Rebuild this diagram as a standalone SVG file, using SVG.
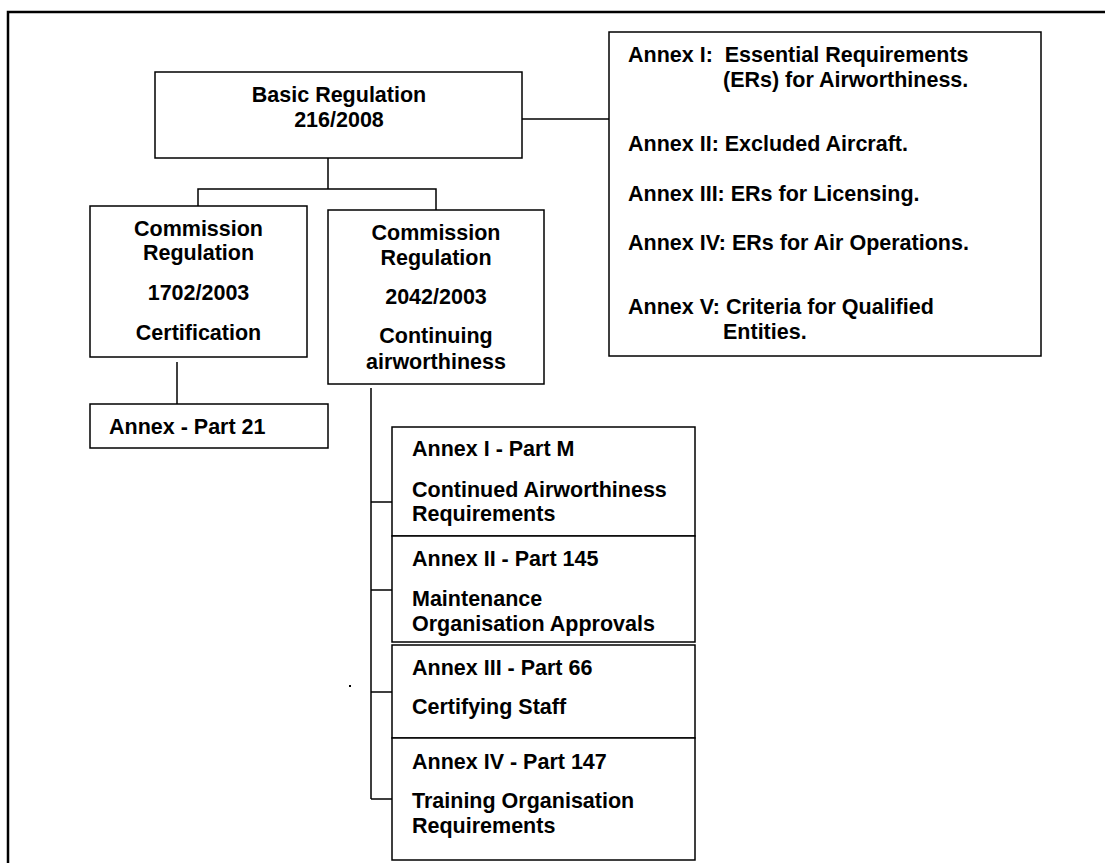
<svg xmlns="http://www.w3.org/2000/svg" width="1105" height="863" viewBox="0 0 1105 863">
<style>
.frame{fill:none;stroke:#000;stroke-width:2.5}
.box{fill:#fff;stroke:#000;stroke-width:1.5}
.ln{fill:none;stroke:#000;stroke-width:1.5}
text{font-family:"Liberation Sans",Arial,sans-serif;font-weight:bold;font-size:21.5px;fill:#000}
.c{text-anchor:middle}
</style>
<rect width="1105" height="863" fill="#fff"/>
<path class="frame" d="M8,863 V12 H1105"/>
<g id="connectors">
<path class="ln" d="M522,119 H609"/>
<path class="ln" d="M328,158 V189 M198,206 V189 H436 V210"/>
<path class="ln" d="M177,362 V404"/>
<path class="ln" d="M371,388 V799 M371,502 H392 M371,590 H392 M371,692 H392 M371,799 H392"/>
</g>
<g id="basic">
<rect class="box" x="155" y="72" width="367" height="86"/>
<text class="c" x="339" y="102">Basic Regulation</text>
<text class="c" x="339" y="127">216/2008</text>
</g>
<g id="annexes">
<rect class="box" x="609" y="32" width="432" height="324"/>
<text x="628" y="62" xml:space="preserve">Annex I:  Essential Requirements</text>
<text x="723" y="87">(ERs) for Airworthiness.</text>
<text x="628" y="151">Annex II: Excluded Aircraft.</text>
<text x="628" y="201">Annex III: ERs for Licensing.</text>
<text x="628" y="250">Annex IV: ERs for Air Operations.</text>
<text x="628" y="314">Annex V: Criteria for Qualified</text>
<text x="723" y="339">Entities.</text>
</g>
<g id="cr1702">
<rect class="box" x="90" y="206" width="217" height="151"/>
<text class="c" x="198.5" y="236">Commission</text>
<text class="c" x="198.5" y="260">Regulation</text>
<text class="c" x="198.5" y="300">1702/2003</text>
<text class="c" x="198.5" y="340">Certification</text>
</g>
<g id="cr2042">
<rect class="box" x="328" y="210" width="216" height="174"/>
<text class="c" x="436" y="240">Commission</text>
<text class="c" x="436" y="265">Regulation</text>
<text class="c" x="436" y="304">2042/2003</text>
<text class="c" x="436" y="343">Continuing</text>
<text class="c" x="436" y="369">airworthiness</text>
</g>
<g id="part21">
<rect class="box" x="90" y="404" width="238" height="44"/>
<text x="109" y="434">Annex - Part 21</text>
</g>
<g id="partM">
<rect class="box" x="392" y="427" width="303" height="109"/>
<text x="412" y="456">Annex I - Part M</text>
<text x="412" y="497">Continued Airworthiness</text>
<text x="412" y="521">Requirements</text>
</g>
<g id="part145">
<rect class="box" x="392" y="536" width="303" height="106"/>
<text x="412" y="566">Annex II - Part 145</text>
<text x="412" y="606">Maintenance</text>
<text x="412" y="631">Organisation Approvals</text>
</g>
<g id="part66">
<rect class="box" x="392" y="645" width="303" height="93"/>
<text x="412" y="675">Annex III - Part 66</text>
<text x="412" y="714">Certifying Staff</text>
</g>
<g id="part147">
<rect class="box" x="392" y="738" width="303" height="122"/>
<text x="412" y="769">Annex IV - Part 147</text>
<text x="412" y="808">Training Organisation</text>
<text x="412" y="833">Requirements</text>
</g>
<rect x="349" y="685" width="2" height="2" fill="#000"/>
</svg>
